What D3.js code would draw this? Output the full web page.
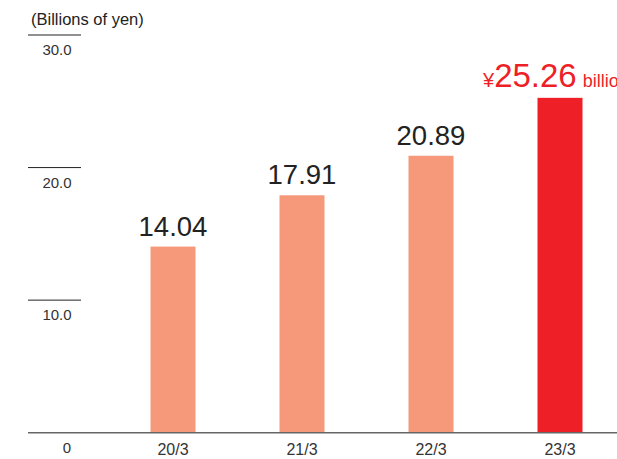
<!DOCTYPE html>
<html lang="en">
<head>
    <meta charset="utf-8" />
    <script src="https://d3js.org/d3.v7.min.js"></script>
    <title>Bar Chart</title>
    <style>
        body { margin: 0; background: #fff; }
        svg { font-family: "Liberation Sans", Arial, sans-serif; display: block; }
    </style>
</head>
<body>
    <div id="container"></div>
    <script>
        const years = ["20/3", "21/3", "22/3", "23/3"];
        const values = [14.04, 17.91, 20.89, 25.26];
        const yTicks = [10, 20, 30];

        const w = 617;
        const h = 459;
        const BASE = 432.7;

        // scales
        const yScale = d3.scaleLinear().domain([0, 30]).range([BASE, 35]);
        const xScale = d3.scalePoint().domain(years).range([173, 560]);
        const barW = 45;

        const svg = d3.select("#container").append("svg").attr("width", w).attr("height", h);

        // unit label
        svg.append("text").attr("x", 31).attr("y", 25)
           .style("font-size", "16.5px").attr("fill", "#222")
           .text("(Billions of yen)");

        // y ticks: short line with label underneath
        const tick = svg.selectAll(".ytick").data(yTicks).enter().append("g")
           .attr("class", "ytick")
           .attr("transform", d => "translate(0," + yScale(d) + ")");
        tick.append("line").attr("x1", 28).attr("x2", 81)
            .attr("stroke", "#222").attr("stroke-width", 1);
        tick.append("text").attr("x", 57).attr("y", 20)
            .attr("text-anchor", "middle").style("font-size", "15px").attr("fill", "#333")
            .text(d => d.toFixed(1));
        svg.append("text").attr("x", 67).attr("y", yScale(0) + 20)
           .attr("text-anchor", "middle").style("font-size", "15px").attr("fill", "#333")
           .text("0");

        // bars
        const last = years.length - 1;
        svg.selectAll(".bar").data(values).enter().append("rect")
           .attr("class", "bar")
           .attr("x", (d, i) => xScale(years[i]) - barW / 2)
           .attr("width", barW)
           .attr("y", d => yScale(d))
           .attr("height", d => BASE - yScale(d))
           .attr("fill", (d, i) => i === last ? "#ee1f27" : "#f5997a");

        // baseline
        svg.append("line").attr("x1", 28).attr("x2", w)
           .attr("y1", BASE).attr("y2", BASE)
           .attr("stroke", "#666").attr("stroke-width", 1.5);

        // category labels
        svg.selectAll(".xlab").data(years).enter().append("text")
           .attr("class", "xlab")
           .attr("x", d => xScale(d)).attr("y", BASE + 22.5)
           .attr("text-anchor", "middle").style("font-size", "16px").attr("fill", "#333")
           .text(d => d);

        // value labels
        svg.selectAll(".vlab").data(values.slice(0, last)).enter().append("text")
           .attr("class", "vlab")
           .attr("x", (d, i) => xScale(years[i]))
           .attr("y", d => yScale(d) - 11)
           .attr("text-anchor", "middle").style("font-size", "27.5px").attr("fill", "#222")
           .text(d => d.toFixed(2));

        // highlighted latest value, runs off the right edge like the original
        const hi = svg.append("text")
           .attr("x", xScale(years[last]) - 77)
           .attr("y", yScale(values[last]) - 11)
           .attr("fill", "#ee1f27");
        hi.append("tspan").style("font-size", "20px").text("¥");
        hi.append("tspan").style("font-size", "33px").text(values[last].toFixed(2));
        hi.append("tspan").attr("dx", 6).style("font-size", "18px").text("billion");
    </script>
</body>
</html>
